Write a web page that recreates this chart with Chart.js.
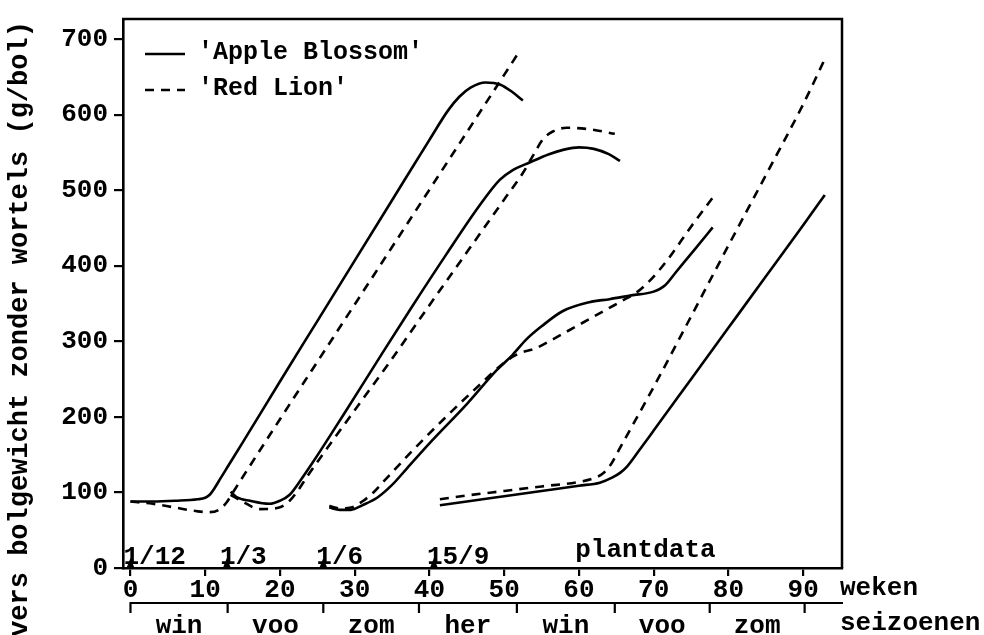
<!DOCTYPE html>
<html>
<head>
<meta charset="utf-8">
<script src="https://cdn.jsdelivr.net/npm/chart.js@4.4.0/dist/chart.umd.min.js"></script>
<style>
  html, body { margin: 0; padding: 0; background: #fff; }
  canvas { display: block; }
</style>
</head>
<body>
<canvas id="grafiek" width="984" height="635"></canvas>
<script>
// [week na 1/12, vers bolgewicht g/bol], per plantdatum
let abDec = [[0, 88], [3, 88], [6, 89], [9, 91], [10, 93], [10.6, 97], [11.2, 105], [12, 118], [13, 134], [15, 166], [20, 247], [25, 327], [30, 407], [35, 487], [40, 567], [42.5, 606], [44, 624], [45.5, 636], [47.5, 643], [49.5, 640], [51, 631], [52.5, 619]]
let rlDec = [[0, 88], [3, 85], [6, 80], [9, 75], [10.5, 74], [11.8, 77], [12.8, 86], [13.7, 100], [14.6, 114], [20, 197], [25, 273], [30, 349], [35, 425], [40, 501], [45, 577], [50, 653], [51.9, 682]]
let abMar = [[13.4, 101], [14.2, 94], [16, 89], [18.6, 85], [20, 89], [21.3, 97], [22.6, 114], [24.4, 140], [28.5, 203], [32.9, 272], [37.6, 345], [42.3, 416], [46.7, 480], [49.4, 514], [51, 526], [53.4, 537], [56, 548], [58, 554], [60, 557], [62, 555], [64, 548], [65.5, 539]]
let rlMar = [[13.4, 97], [15, 88], [17.3, 78], [19.9, 80], [21.3, 89], [22.5, 104], [23.7, 122], [25.7, 150], [30, 209], [34.7, 273], [40, 348], [45, 418], [50, 488], [52.5, 523], [53.8, 545], [55.2, 568], [56.5, 578], [58.4, 583], [61.4, 581], [64.8, 575]]
let abJun = [[26.6, 80], [28, 77], [29.5, 77], [31, 83], [33, 93], [35, 110], [37, 132], [40, 165], [45, 217], [49, 262], [51.1, 282], [53, 303], [55, 320], [57.8, 340], [61.4, 352], [64.1, 356], [67, 361], [70, 366], [71.5, 374], [73, 392], [75.5, 422], [77.9, 451]]
let rlJun = [[26.6, 82], [28, 79], [29.5, 80], [31, 88], [32.5, 100], [34, 116], [37.7, 155], [42, 198], [45.8, 234], [50.7, 277], [52.2, 285], [54, 290], [56, 300], [58, 311], [60, 322], [62, 333], [64, 344], [66, 355], [68, 367], [70, 386], [72, 410], [75, 452], [78.4, 497]]
let abSep = [[41.4, 83], [45, 88], [50, 95], [55, 102], [60, 109], [62.8, 113], [64.5, 120], [65.5, 126], [66.4, 134], [68, 155], [70, 182], [75, 250], [80, 318], [85, 386], [90, 454], [92.9, 494]]
let rlSep = [[41.4, 91], [45, 96], [50, 102], [55, 108], [60, 114], [62, 119], [63.2, 125], [64.2, 136], [65.5, 159], [70.4, 247], [75, 333], [80, 427], [85, 520], [90, 614], [93, 676]]

let weekTicks = [0, 10, 20, 30, 40, 50, 60, 70, 80, 90]
let weightTicks = [0, 100, 200, 300, 400, 500, 600, 700]
let plantWeeks = [0, 12.9, 25.8, 40.6]
let plantLabels = ['1/12', '1/3', '1/6', '15/9']
let seasonBounds = [0, 13, 25.8, 38.6, 51.7, 64.8, 77.5, 90.2]
let seasonLabels = ['win', 'voo', 'zom', 'her', 'win', 'voo', 'zom']

const MONO = "'Liberation Mono', 'DejaVu Sans Mono', monospace"
const DASH = [9, 7]

function serie (punten, dashed) {
  return {
    label: dashed ? "'Red Lion'" : "'Apple Blossom'",
    data: punten.map(p => ({ x: p[0], y: p[1] })),
    borderColor: '#000',
    borderWidth: 2.6,
    borderDash: dashed ? DASH : [],
    borderJoinStyle: 'round',
    pointRadius: 0,
    cubicInterpolationMode: 'monotone',
    fill: false
  }
}

// tekst, legenda, plantdata en seizoenen rond de grafiek
const extras = {
  id: 'extras',
  afterDraw (chart) {
    let ctx = chart.ctx
    let sx = chart.scales.x
    let area = chart.chartArea
    ctx.save()
    ctx.strokeStyle = '#000'
    ctx.fillStyle = '#000'
    ctx.lineWidth = 2.5
    // kader boven en rechts
    ctx.beginPath()
    ctx.moveTo(area.left - 1, area.top)
    ctx.lineTo(area.right, area.top)
    ctx.lineTo(area.right, area.bottom)
    ctx.stroke()
    // legenda
    ctx.font = 'bold 25px ' + MONO
    ctx.textBaseline = 'middle'
    ctx.textAlign = 'left'
    let ds = chart.data.datasets
    ;[ds[0], ds[1]].forEach((d, i) => {
      let ly = area.top + 35 + i * 36
      ctx.lineWidth = 2.6
      ctx.setLineDash(d.borderDash)
      ctx.beginPath()
      ctx.moveTo(area.left + 22, ly)
      ctx.lineTo(area.left + 62, ly)
      ctx.stroke()
      ctx.setLineDash([])
      ctx.fillText(d.label, area.left + 75, ly - 1)
    })
    // plantdata
    ctx.textBaseline = 'alphabetic'
    ctx.font = 'bold 26px ' + MONO
    plantWeeks.forEach((w, i) => {
      let px = sx.getPixelForValue(w)
      ctx.beginPath()
      ctx.moveTo(px - 4, area.bottom)
      ctx.lineTo(px, area.bottom - 10)
      ctx.lineTo(px + 4, area.bottom)
      ctx.closePath()
      ctx.fill()
      ctx.fillText(plantLabels[i], px - 7, area.bottom - 4)
    })
    ctx.fillText('plantdata', sx.getPixelForValue(59.5), area.bottom - 11)
    ctx.fillText('weken', area.right - 2, area.bottom + 27)
    ctx.fillText('seizoenen', area.right - 2, area.bottom + 62)
    // seizoenen-as
    let sy = area.bottom + 35
    ctx.lineWidth = 2.2
    ctx.beginPath()
    ctx.moveTo(sx.getPixelForValue(seasonBounds[0]) - 1, sy)
    ctx.lineTo(area.right + 1, sy)
    seasonBounds.forEach(b => {
      let px = sx.getPixelForValue(b)
      ctx.moveTo(px, sy)
      ctx.lineTo(px, sy + 10)
    })
    ctx.stroke()
    ctx.textAlign = 'center'
    seasonLabels.forEach((s, i) => {
      let mid = (seasonBounds[i] + seasonBounds[i + 1]) / 2
      ctx.fillText(s, sx.getPixelForValue(mid), area.bottom + 65)
    })
    // y-as titel
    ctx.translate(27, 329)
    ctx.rotate(-Math.PI / 2)
    ctx.font = 'bold 27px ' + MONO
    ctx.fillText('vers bolgewicht zonder wortels (g/bol)', 0, 0)
    ctx.restore()
  }
}

let ctx = document.getElementById('grafiek').getContext('2d')
let grafiek = new Chart(ctx, {
  type: 'line',
  data: {
    datasets: [
      serie(abDec, false), serie(rlDec, true),
      serie(abMar, false), serie(rlMar, true),
      serie(abJun, false), serie(rlJun, true),
      serie(abSep, false), serie(rlSep, true)
    ]
  },
  options: {
    responsive: false,
    animation: false,
    devicePixelRatio: 1,
    layout: { padding: { top: 14, right: 142, bottom: 0, left: 0 } },
    plugins: { legend: { display: false }, tooltip: { enabled: false } },
    scales: {
      x: {
        type: 'linear',
        min: -1,
        max: 95.2,
        afterFit: scale => { scale.height = 67 },
        afterBuildTicks: scale => { scale.ticks = weekTicks.map(v => ({ value: v })) },
        grid: { drawOnChartArea: false, color: '#000', lineWidth: 2.2, tickLength: 8 },
        border: { color: '#000', width: 2.6 },
        ticks: { color: '#000', padding: 1, maxRotation: 0, font: { family: MONO, size: 26, weight: 'bold', lineHeight: 1 } }
      },
      y: {
        min: 0,
        max: 727,
        afterFit: scale => { scale.width = 123 },
        afterBuildTicks: scale => { scale.ticks = weightTicks.map(v => ({ value: v })) },
        grid: { drawOnChartArea: false, color: '#000', lineWidth: 2.2, tickLength: 9 },
        border: { color: '#000', width: 2.6 },
        ticks: { color: '#000', padding: 6, font: { family: MONO, size: 26, weight: 'bold', lineHeight: 1 } }
      }
    }
  },
  plugins: [extras]
})
</script>
</body>
</html>
